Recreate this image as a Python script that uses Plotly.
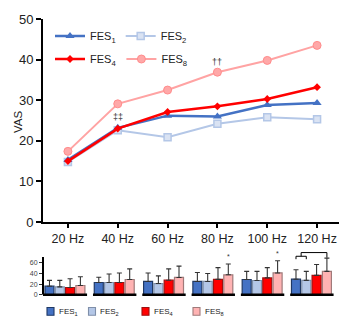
import plotly.graph_objects as go

# ---------------- data ----------------
freq_labels = ["20 Hz", "40 Hz", "60 Hz", "80 Hz", "100 Hz", "120 Hz"]
series_names = ["FES<sub>1</sub>", "FES<sub>2</sub>", "FES<sub>4</sub>", "FES<sub>8</sub>"]

# mean VAS (line chart)
vas_fes1 = [15.3, 23.2, 26.2, 26.0, 28.8, 29.3]
vas_fes2 = [14.8, 22.6, 20.9, 24.2, 25.8, 25.3]
vas_fes4 = [15.0, 23.0, 27.1, 28.5, 30.3, 33.2]
vas_fes8 = [17.4, 29.1, 32.5, 36.9, 39.8, 43.5]

# bar inset: mean and SD
bar_fes1 = [16.0, 23.0, 25.0, 25.0, 28.7, 29.2]
bar_fes2 = [14.7, 23.0, 21.0, 25.0, 26.8, 27.0]
bar_fes4 = [13.6, 23.0, 27.4, 29.0, 31.7, 36.4]
bar_fes8 = [17.4, 28.7, 32.5, 37.5, 41.0, 44.0]
sd_fes1 = [11.0, 10.0, 16.0, 17.0, 15.3, 17.8]
sd_fes2 = [12.3, 16.0, 14.5, 15.0, 17.2, 17.0]
sd_fes4 = [16.4, 18.0, 21.3, 22.0, 19.3, 20.6]
sd_fes8 = [16.6, 20.0, 21.5, 20.5, 23.0, 25.0]

bar_ticks = [0, 20, 40, 60]
main_ticks = [0, 10, 20, 30, 40, 50]

# ---------------- styles ----------------
FONT = "Arial, Liberation Sans, sans-serif"
line_col = ["#4472C4", "#B4C7E7", "#FF0000", "#FFA3A3"]
bar_fill = ["#4472C4", "#B4C7E7", "#FF0000", "#FFB3B3"]
bar_edge = ["#1F3864", "#7F8FA9", "#9E1010", "#A07A7A"]

W, H = 339, 322
L = 43
PW = W - L


def px_x(px):
    return (px - L) / PW


def px_y(py):
    return 1 - py / H


fig = go.Figure()

# ---- main line chart ----
line_specs = [
    (vas_fes2, 1, dict(symbol="square", size=7, color="#DAE3F3", line=dict(color="#B4C7E7", width=1.5)), 2.0, "legend"),
    (vas_fes8, 3, dict(symbol="circle", size=8, color="#FFA8A8", line=dict(color="#FF8C8C", width=1)), 2.0, "legend2"),
    (vas_fes1, 0, dict(symbol="triangle-up", size=8, color="#4472C4"), 2.5, "legend"),
    (vas_fes4, 2, dict(symbol="diamond", size=6, color="#FF0000"), 2.5, "legend2"),
]
for vals, idx, mk, lw, lg in line_specs:
    fig.add_trace(go.Scatter(
        x=freq_labels, y=vals, mode="lines+markers", name=series_names[idx],
        line=dict(color=line_col[idx], width=lw), marker=mk,
        legend=lg, legendrank=idx, xaxis="x", yaxis="y",
    ))

# ---- bar inset ----
bar_means = [bar_fes1, bar_fes2, bar_fes4, bar_fes8]
bar_sds = [sd_fes1, sd_fes2, sd_fes4, sd_fes8]
bw = 0.183
offsets = [-0.414, -0.205, 0.004, 0.213]
for i in range(4):
    fig.add_trace(go.Bar(
        x=freq_labels, y=bar_means[i], width=bw, offset=offsets[i],
        marker=dict(color=bar_fill[i], line=dict(color=bar_edge[i], width=1.2)),
        error_y=dict(type="data", symmetric=False, array=bar_sds[i],
                     arrayminus=[0] * len(bar_sds[i]), color="#333333",
                     thickness=1.1, width=2.5),
        showlegend=False, xaxis="x2", yaxis="y2",
    ))

# ---------------- layout ----------------
main_y0, main_y1 = px_y(222), px_y(19)
bar_ymax = 82
bar_y0 = px_y(294.7)
bar_y1 = bar_y0 + (bar_ymax * 0.53) / H

shapes = []
# inset y axis line
shapes.append(dict(type="line", xref="paper", yref="y2", x0=0, x1=0, y0=0, y1=71,
                   line=dict(color="black", width=2)))
# inset group baselines
for g in range(len(freq_labels)):
    x0 = g - 0.44 if g > 0 else -0.47
    shapes.append(dict(type="line", xref="x2", yref="y2 domain", x0=x0, x1=g + 0.44,
                       y0=0, y1=0, line=dict(color="black", width=2.5)))
# significance brackets at 120 Hz
g = 5
c1 = g + offsets[0] + bw / 2
c2 = g + offsets[1] + bw / 2
c8 = g + offsets[3] + bw / 2
mid12 = (c1 + c2) / 2
shapes.append(dict(type="path", xref="x2", yref="y2",
                   path=f"M{c1},{67} L{c1},{72.5} L{c2},{72.5} L{c2},{67}",
                   line=dict(color="black", width=1)))
shapes.append(dict(type="path", xref="x2", yref="y2",
                   path=f"M{mid12},{72.5} L{mid12},{79.5} L{c8},{79.5} L{c8},{70}",
                   line=dict(color="black", width=1)))

annotations = [
    dict(text="VAS", xref="paper", yref="paper", x=px_x(10), y=px_y(122),
         textangle=-90, showarrow=False, font=dict(size=11.5, color="#222222", family=FONT)),
    dict(text="‡‡", x=freq_labels[1], y=25.8, xref="x", yref="y", showarrow=False,
         font=dict(size=9, color="#333333", family=FONT)),
    dict(text="††", x=freq_labels[3], y=39.4, xref="x", yref="y", showarrow=False,
         font=dict(size=9, color="#333333", family=FONT)),
    dict(text="*", x=3 + offsets[3] + bw / 2, y=bar_fes8[3] + sd_fes8[3] + 15, xref="x2", yref="y2",
         showarrow=False, font=dict(size=7, color="#333333", family=FONT)),
    dict(text="*", x=4 + offsets[3] + bw / 2, y=bar_fes8[4] + sd_fes8[4] + 13, xref="x2", yref="y2",
         showarrow=False, font=dict(size=7, color="#333333", family=FONT)),
    dict(text="#", x=(mid12 + c8) / 2 - 0.05, y=86, xref="x2", yref="y2", showarrow=False,
         font=dict(size=6.5, color="#333333", family=FONT)),
]

# inset legend (square swatches + labels)
legend_sq_left = [47, 88.5, 142, 193]
for i in range(4):
    x0 = legend_sq_left[i]
    shapes.append(dict(type="rect", xref="paper", yref="paper",
                       x0=px_x(x0), x1=px_x(x0 + 7), y0=px_y(315.3), y1=px_y(307.5),
                       fillcolor=bar_fill[i], line=dict(color=bar_edge[i], width=1.1)))
    annotations.append(dict(text=series_names[i], xref="paper", yref="paper",
                            x=px_x(x0 + 9.5), y=px_y(311.8), xanchor="left", yanchor="middle",
                            showarrow=False, font=dict(size=8, color="#222222", family=FONT)))

fig.update_layout(
    width=W, height=H, template="none",
    margin=dict(l=L, r=0, t=0, b=0, pad=0),
    paper_bgcolor="white", plot_bgcolor="white",
    font=dict(family=FONT, color="#222222"),
    showlegend=True,
    xaxis=dict(domain=[0, 1], anchor="y", type="category", range=[-0.5, 5.44],
               showline=True, linecolor="black", linewidth=2, showgrid=False, zeroline=False,
               ticks="outside", ticklen=4, tickwidth=1.5, tickcolor="black",
               tickfont=dict(size=12.5, color="#222222"), automargin=False),
    yaxis=dict(domain=[main_y0, main_y1], anchor="x", range=[0, 50], tickvals=main_ticks,
               showline=True, linecolor="black", linewidth=2, showgrid=False, zeroline=False,
               ticks="outside", ticklen=5, tickwidth=1.5, tickcolor="black",
               tickfont=dict(size=13, color="#222222"), automargin=False),
    xaxis2=dict(domain=[0, 1], anchor="y2", type="category", range=[-0.454, 5.55],
                visible=False, automargin=False),
    yaxis2=dict(domain=[bar_y0, bar_y1], anchor="x2", range=[0, bar_ymax], tickvals=bar_ticks,
                showline=False, showgrid=False, zeroline=False,
                ticks="outside", ticklen=3, tickwidth=1, tickcolor="#333333",
                tickfont=dict(size=7, color="#444444"), automargin=False),
    barmode="overlay",
    legend=dict(orientation="h", x=px_x(50), y=px_y(36), xanchor="left", yanchor="middle",
                bgcolor="rgba(0,0,0,0)", font=dict(size=11, color="#222222"), itemwidth=30,
                tracegroupgap=0),
    legend2=dict(orientation="h", x=px_x(50), y=px_y(59), xanchor="left", yanchor="middle",
                 bgcolor="rgba(0,0,0,0)", font=dict(size=11, color="#222222"), itemwidth=30,
                 tracegroupgap=0),
    shapes=shapes,
    annotations=annotations,
)

fig.write_html("out.html", config={"displayModeBar": False},
               post_script="document.body.style.margin='0';")
